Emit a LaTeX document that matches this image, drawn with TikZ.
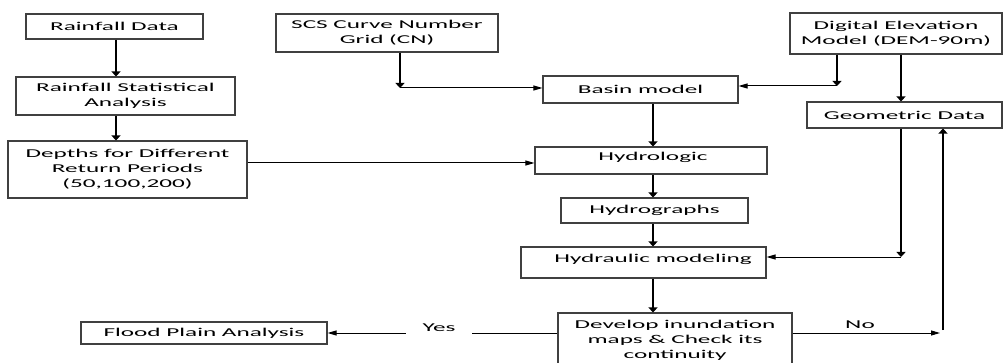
\documentclass[tikz,border=0pt]{standalone}
\usepackage{fontspec}
\setmainfont{Carlito}[FakeStretch=2.1]
\usetikzlibrary{arrows.meta}
\begin{document}
\begin{tikzpicture}[x=1pt,y=-1pt,
  box/.style={draw=black!75,line width=1.1pt,fill=white,inner sep=0pt,align=center,
    font=\fontsize{12}{15}\selectfont},
  varrow/.style={line width=1.8pt,-{Triangle[length=5pt,width=9pt]}},
  harrow/.style={line width=1pt,-{Triangle[length=9pt,width=5pt]}},
  lbl/.style={font=\fontsize{12}{15}\selectfont,inner sep=2pt}]
\useasboundingbox (0,0) rectangle (1003,363);
% nodes
\node[box,minimum width=177pt,minimum height=25pt] (rd) at (114.5,26.5) {Rainfall Data};
\node[box,minimum width=219pt,minimum height=38pt] (rsa) at (125.5,96) {Rainfall Statistical\\Analysis};
\node[box,minimum width=239pt,minimum height=57pt] (dep) at (127.5,169.5) {Depths for Different\\Return Periods\\(50,100,200)};
\node[box,minimum width=222pt,minimum height=38pt] (scs) at (387,33) {SCS Curve Number\\Grid (CN)};
\node[box,minimum width=195pt,minimum height=27pt] (basin) at (640.5,89.5) {Basin model};
\node[box,minimum width=232pt,minimum height=27pt] (hydro) at (651,160.5) {};
\node[lbl] (hydrot) at (653,157) {Hydrologic};
\node[box,minimum width=187pt,minimum height=25pt] (hg) at (654.5,210.5) {Hydrographs};
\node[box,minimum width=245pt,minimum height=31pt] (hm) at (643.5,262.5) {};
\node[lbl] (hmt) at (653,259) {Hydraulic modeling};
\node[box,minimum width=234pt,minimum height=54pt] (dev) at (675,340) {Develop inundation\\maps \& Check its\\continuity};
\node[box,minimum width=212pt,minimum height=41pt] (dem) at (896,33.5) {Digital Elevation\\Model (DEM-90m)};
\node[box,minimum width=195pt,minimum height=26pt] (geo) at (904.5,115) {Geometric Data};
\node[box,minimum width=246pt,minimum height=22pt] (fpa) at (204,333) {Flood Plain Analysis};
% helper coordinates
\coordinate (lx) at (116,0);
\coordinate (mx) at (653,0);
\coordinate (c1) at (400,88);
\coordinate (c2) at (837,86);
\coordinate (c3) at (901,257);
\coordinate (c4) at (943,333);
% connectors
\draw[varrow] (rd.south -| lx) -- (rsa.north -| lx);
\draw[varrow] (rsa.south -| lx) -- (dep.north -| lx);
\draw[harrow] ([yshift=6.5pt]dep.east) -- ([yshift=6.5pt]dep.east -| hydro.west);
\draw[varrow] (scs.south -| c1) -- (c1);
\draw[harrow] (c1) -- (c1 -| basin.west);
\draw[varrow] (dem.south -| c2) -- (c2);
\draw[harrow] (c2) -- (c2 -| basin.east);
\draw[varrow] (dem.south -| c3) -- (geo.north -| c3);
\draw[varrow] (geo.south -| c3) -- (c3);
\draw[harrow] (c3) -- (c3 -| hm.east);
\draw[varrow] (basin.south -| mx) -- (hydro.north -| mx);
\draw[varrow] (hydro.south -| mx) -- (hg.north -| mx);
\draw[varrow] (hg.south -| mx) -- (hm.north -| mx);
\draw[varrow] (hm.south -| mx) -- (dev.north -| mx);
\draw[harrow] (dev.east |- c4) -- ([xshift=-3pt]c4);
\node[lbl] (no) at (860,325) {No};
\draw[varrow] ([yshift=3pt]c4) -- (c4 |- geo.south);
\draw[harrow] (fpa.east -| dev.west) -- (fpa.east);
\node[lbl,fill=white,inner xsep=17pt,inner ysep=3pt] (yes) at (439,328) {Yes};
\end{tikzpicture}
\end{document}
